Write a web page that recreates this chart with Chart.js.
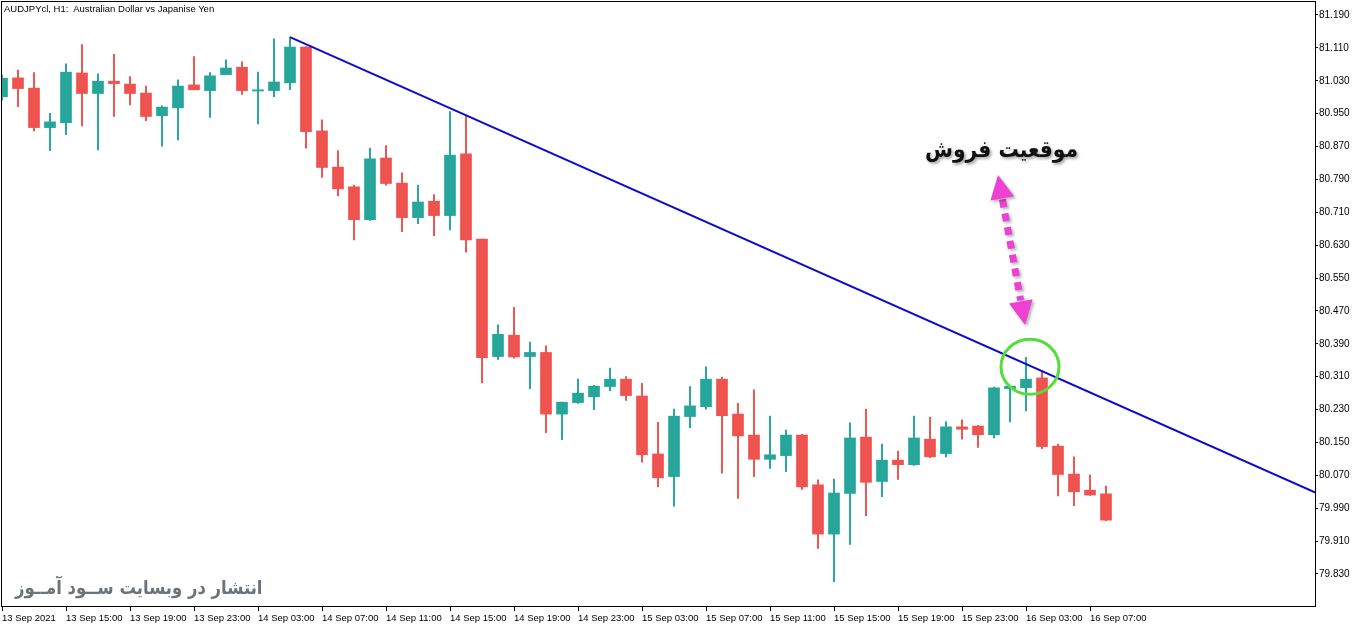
<!DOCTYPE html>
<html>
<head>
<meta charset="utf-8">
<title>AUDJPYcl H1</title>
<script src="https://cdn.jsdelivr.net/npm/chart.js@4"></script>
<style>
  body { margin: 0; background: #fff; }
  #wrap { position: relative; width: 1362px; height: 628px; overflow: hidden; }
  #myChart { position: absolute; left: 0; top: 0; }
  .title { position: absolute; left: 4px; top: 3px; font: 9.5px "Liberation Sans", Arial, sans-serif; color: #000; white-space: pre; }
  .note { position: absolute; left: 925px; top: 136px; direction: rtl; transform: scaleX(0.88); transform-origin: left top;
          font: bold 23px "DejaVu Sans", sans-serif; color: #111; text-shadow: 2px 2px 3px rgba(0,0,0,0.35); white-space: nowrap; }
  .mark { position: absolute; left: 15px; top: 576px; direction: rtl; transform: scaleX(0.865); transform-origin: left top;
          font: bold 19px "DejaVu Sans", sans-serif; color: #6c737b; white-space: nowrap; }
</style>
</head>
<body>
<div id="wrap">
  <canvas id="myChart" width="1362" height="628"></canvas>
  <div class="title">AUDJPYcl, H1:  Australian Dollar vs Japanise Yen</div>
  <div class="note">موقعیت فروش</div>
  <div class="mark">انتشار در وبسایت ســود آمــوز</div>
</div>
<script>
// hourly candles, 13 Sep 11:00 .. 16 Sep 08:00
const opens = [80.991,81.037,81.012,80.916,80.928,81.049,80.999,81.029,81.022,81.000,
               80.945,80.964,81.020,81.006,81.045,81.063,81.005,81.006,81.025,81.112,
               80.908,80.820,80.772,80.692,80.842,80.781,80.697,80.737,80.702,80.852,
               80.645,80.359,80.411,80.359,80.369,80.219,80.247,80.261,80.286,80.304,
               80.263,80.122,80.067,80.213,80.237,80.304,80.219,80.168,80.109,80.118,
               80.168,80.047,79.927,80.026,80.163,80.055,80.107,80.096,80.158,80.123,
               80.188,80.190,80.169,80.281,80.283,80.307,80.141,80.073,80.034,80.025]
const highs = [81.044,81.056,81.050,80.951,81.071,81.118,81.047,81.094,81.040,81.017,
               80.969,81.032,81.089,81.050,81.081,81.076,81.051,81.132,81.136,81.113,
               80.935,80.860,80.776,80.866,80.872,80.806,80.776,80.753,80.955,80.944,
               80.645,80.436,80.479,80.394,80.385,80.248,80.304,80.289,80.331,80.310,
               80.294,80.199,80.231,80.286,80.334,80.309,80.245,80.278,80.214,80.180,
               80.170,80.059,80.061,80.198,80.231,80.146,80.129,80.214,80.212,80.200,
               80.205,80.191,80.285,80.288,80.357,80.322,80.146,80.115,80.071,80.044]
const lows = [80.983,80.967,80.908,80.860,80.899,80.920,80.862,80.943,80.971,80.933,
              80.871,80.886,81.008,80.941,81.045,80.997,80.925,80.991,81.008,80.866,
              80.795,80.750,80.643,80.690,80.776,80.663,80.682,80.653,80.667,80.613,
              80.295,80.352,80.355,80.281,80.174,80.157,80.245,80.230,80.276,80.252,
              80.102,80.042,79.995,80.186,80.231,80.075,80.014,80.067,80.087,80.079,
              80.036,79.892,79.811,79.902,79.972,80.018,80.060,80.094,80.113,80.115,
              80.158,80.138,80.161,80.200,80.227,80.135,80.020,79.996,80.021,79.960]
const closes = [81.036,81.011,80.916,80.930,81.051,80.999,81.029,81.023,80.999,80.943,
                80.966,81.017,81.008,81.042,81.061,81.006,81.008,81.027,81.112,80.906,
                80.819,80.767,80.692,80.840,80.780,80.697,80.735,80.702,80.849,80.643,
                80.356,80.413,80.358,80.369,80.219,80.248,80.270,80.287,80.304,80.264,
                80.120,80.064,80.214,80.239,80.304,80.215,80.166,80.109,80.120,80.168,
                80.042,79.927,80.027,80.161,80.053,80.107,80.096,80.161,80.115,80.188,
                80.182,80.169,80.283,80.287,80.304,80.140,80.072,80.030,80.022,79.961]

// one label every 4 bars
const xLabels = ["13 Sep 2021","13 Sep 15:00","13 Sep 19:00","13 Sep 23:00","14 Sep 03:00","14 Sep 07:00",
                 "14 Sep 11:00","14 Sep 15:00","14 Sep 19:00","14 Sep 23:00","15 Sep 03:00","15 Sep 07:00",
                 "15 Sep 11:00","15 Sep 15:00","15 Sep 19:00","15 Sep 23:00","16 Sep 03:00","16 Sep 07:00"]
const yTicks = [79.830,79.910,79.990,80.070,80.150,80.230,80.310,80.390,80.470,80.550,80.630,
                80.710,80.790,80.870,80.950,81.030,81.110,81.190]

// trendline from the high of bar 18
const trendX = [18, 84]
const trendY = [81.136, 79.995]

// annotation anchors (bar index, price)
const arrowFrom = [62.25, 80.801]
const arrowTo = [63.94, 80.436]
const circleAt = [64.25, 80.334]

const bull = "#26a69a"
const bear = "#ef5350"

let candleColors = opens.map((o, i) => closes[i] >= o ? bull : bear)
let bodies = opens.map((o, i) => ({x: i, y: [o, closes[i]]}))
let wicks = lows.map((l, i) => ({x: i, y: [l, highs[i]]}))
let trend = trendX.map((x, i) => ({x: x, y: trendY[i]}))

const framePlugin = {
    id: "frame",
    afterDraw(chart) {
        let ctx = chart.ctx
        let a = chart.chartArea
        ctx.save()
        ctx.strokeStyle = "#000"
        ctx.lineWidth = 1
        ctx.strokeRect(a.left - 0.5, a.top - 0.5, a.right - a.left + 1, a.bottom - a.top + 1)
        ctx.restore()
    }
}

const notesPlugin = {
    id: "notes",
    afterDatasetsDraw(chart) {
        let ctx = chart.ctx
        let xs = chart.scales.x
        let ys = chart.scales.y

        // green circle around the touch
        let cx = xs.getPixelForValue(circleAt[0])
        let cy = ys.getPixelForValue(circleAt[1])
        ctx.save()
        ctx.strokeStyle = "#55dd3c"
        ctx.lineWidth = 3
        ctx.beginPath()
        ctx.ellipse(cx, cy, 29, 27.5, 0, 0, Math.PI * 2)
        ctx.stroke()
        ctx.restore()

        // dotted double arrow
        let x1 = xs.getPixelForValue(arrowFrom[0]), y1 = ys.getPixelForValue(arrowFrom[1])
        let x2 = xs.getPixelForValue(arrowTo[0]), y2 = ys.getPixelForValue(arrowTo[1])
        let len = Math.hypot(x2 - x1, y2 - y1)
        let ux = (x2 - x1) / len, uy = (y2 - y1) / len
        let head = 24, half = 12
        ctx.save()
        ctx.shadowColor = "rgba(0,0,0,0.3)"
        ctx.shadowBlur = 3
        ctx.shadowOffsetX = 2
        ctx.shadowOffsetY = 2
        ctx.strokeStyle = "#ee40d2"
        ctx.fillStyle = "#ee40d2"
        ctx.lineWidth = 7
        ctx.setLineDash([8, 6])
        ctx.beginPath()
        ctx.moveTo(x1 + ux * (head + 1), y1 + uy * (head + 1))
        ctx.lineTo(x2 - ux * (head + 1), y2 - uy * (head + 1))
        ctx.stroke()
        ctx.setLineDash([])
        let tips = [[x1, y1, 1], [x2, y2, -1]]
        tips.forEach(t => {
            let bx = t[0] + ux * head * t[2], by = t[1] + uy * head * t[2]
            ctx.beginPath()
            ctx.moveTo(t[0], t[1])
            ctx.lineTo(bx - uy * half, by + ux * half)
            ctx.lineTo(bx + uy * half, by - ux * half)
            ctx.closePath()
            ctx.fill()
        })
        ctx.restore()
    }
}

new Chart("myChart", {
    type: "bar",
    data: {
        datasets: [{
            type: "line",
            data: trend,
            borderColor: "#0a0ad2",
            borderWidth: 2,
            pointRadius: 0,
            clip: 0,
            order: 0
        }, {
            data: bodies,
            backgroundColor: candleColors,
            barThickness: 11,
            minBarLength: 1,
            grouped: false,
            clip: 0,
            order: 1
        }, {
            data: wicks,
            backgroundColor: candleColors,
            barThickness: 1.3,
            grouped: false,
            clip: 0,
            order: 2
        }]
    },
    options: {
        responsive: false,
        animation: false,
        devicePixelRatio: 1,
        layout: { padding: { left: 2, top: 2, right: 0, bottom: 0 } },
        plugins: {
            legend: { display: false },
            tooltip: { enabled: false }
        },
        scales: {
            x: {
                type: "linear",
                min: 0,
                max: 82.0625,
                offset: false,
                border: { display: false },
                grid: { offset: false, drawOnChartArea: false, drawTicks: true, tickLength: 5, color: "#000" },
                afterBuildTicks: s => { s.ticks = xLabels.map((l, k) => ({value: k * 4})) },
                afterFit: s => { s.height = 22; s.paddingLeft = 0; s.paddingRight = 0 },
                ticks: {
                    autoSkip: false,
                    maxRotation: 0,
                    align: "start",
                    padding: 2,
                    color: "#000",
                    font: { family: "Liberation Sans", size: 9.5 },
                    callback: v => xLabels[Math.round(v / 4)]
                }
            },
            y: {
                position: "right",
                min: 79.7521,
                max: 81.2216,
                border: { display: false },
                grid: { drawOnChartArea: false, drawTicks: true, tickLength: 3, color: "#000" },
                afterBuildTicks: s => { s.ticks = yTicks.map(v => ({value: v})) },
                afterFit: s => { s.width = 47; s.paddingTop = 0; s.paddingBottom = 0 },
                ticks: {
                    padding: 1,
                    color: "#000",
                    font: { family: "Liberation Sans", size: 10 },
                    callback: v => v.toFixed(3)
                }
            }
        }
    },
    plugins: [framePlugin, notesPlugin]
});
</script>
</body>
</html>
